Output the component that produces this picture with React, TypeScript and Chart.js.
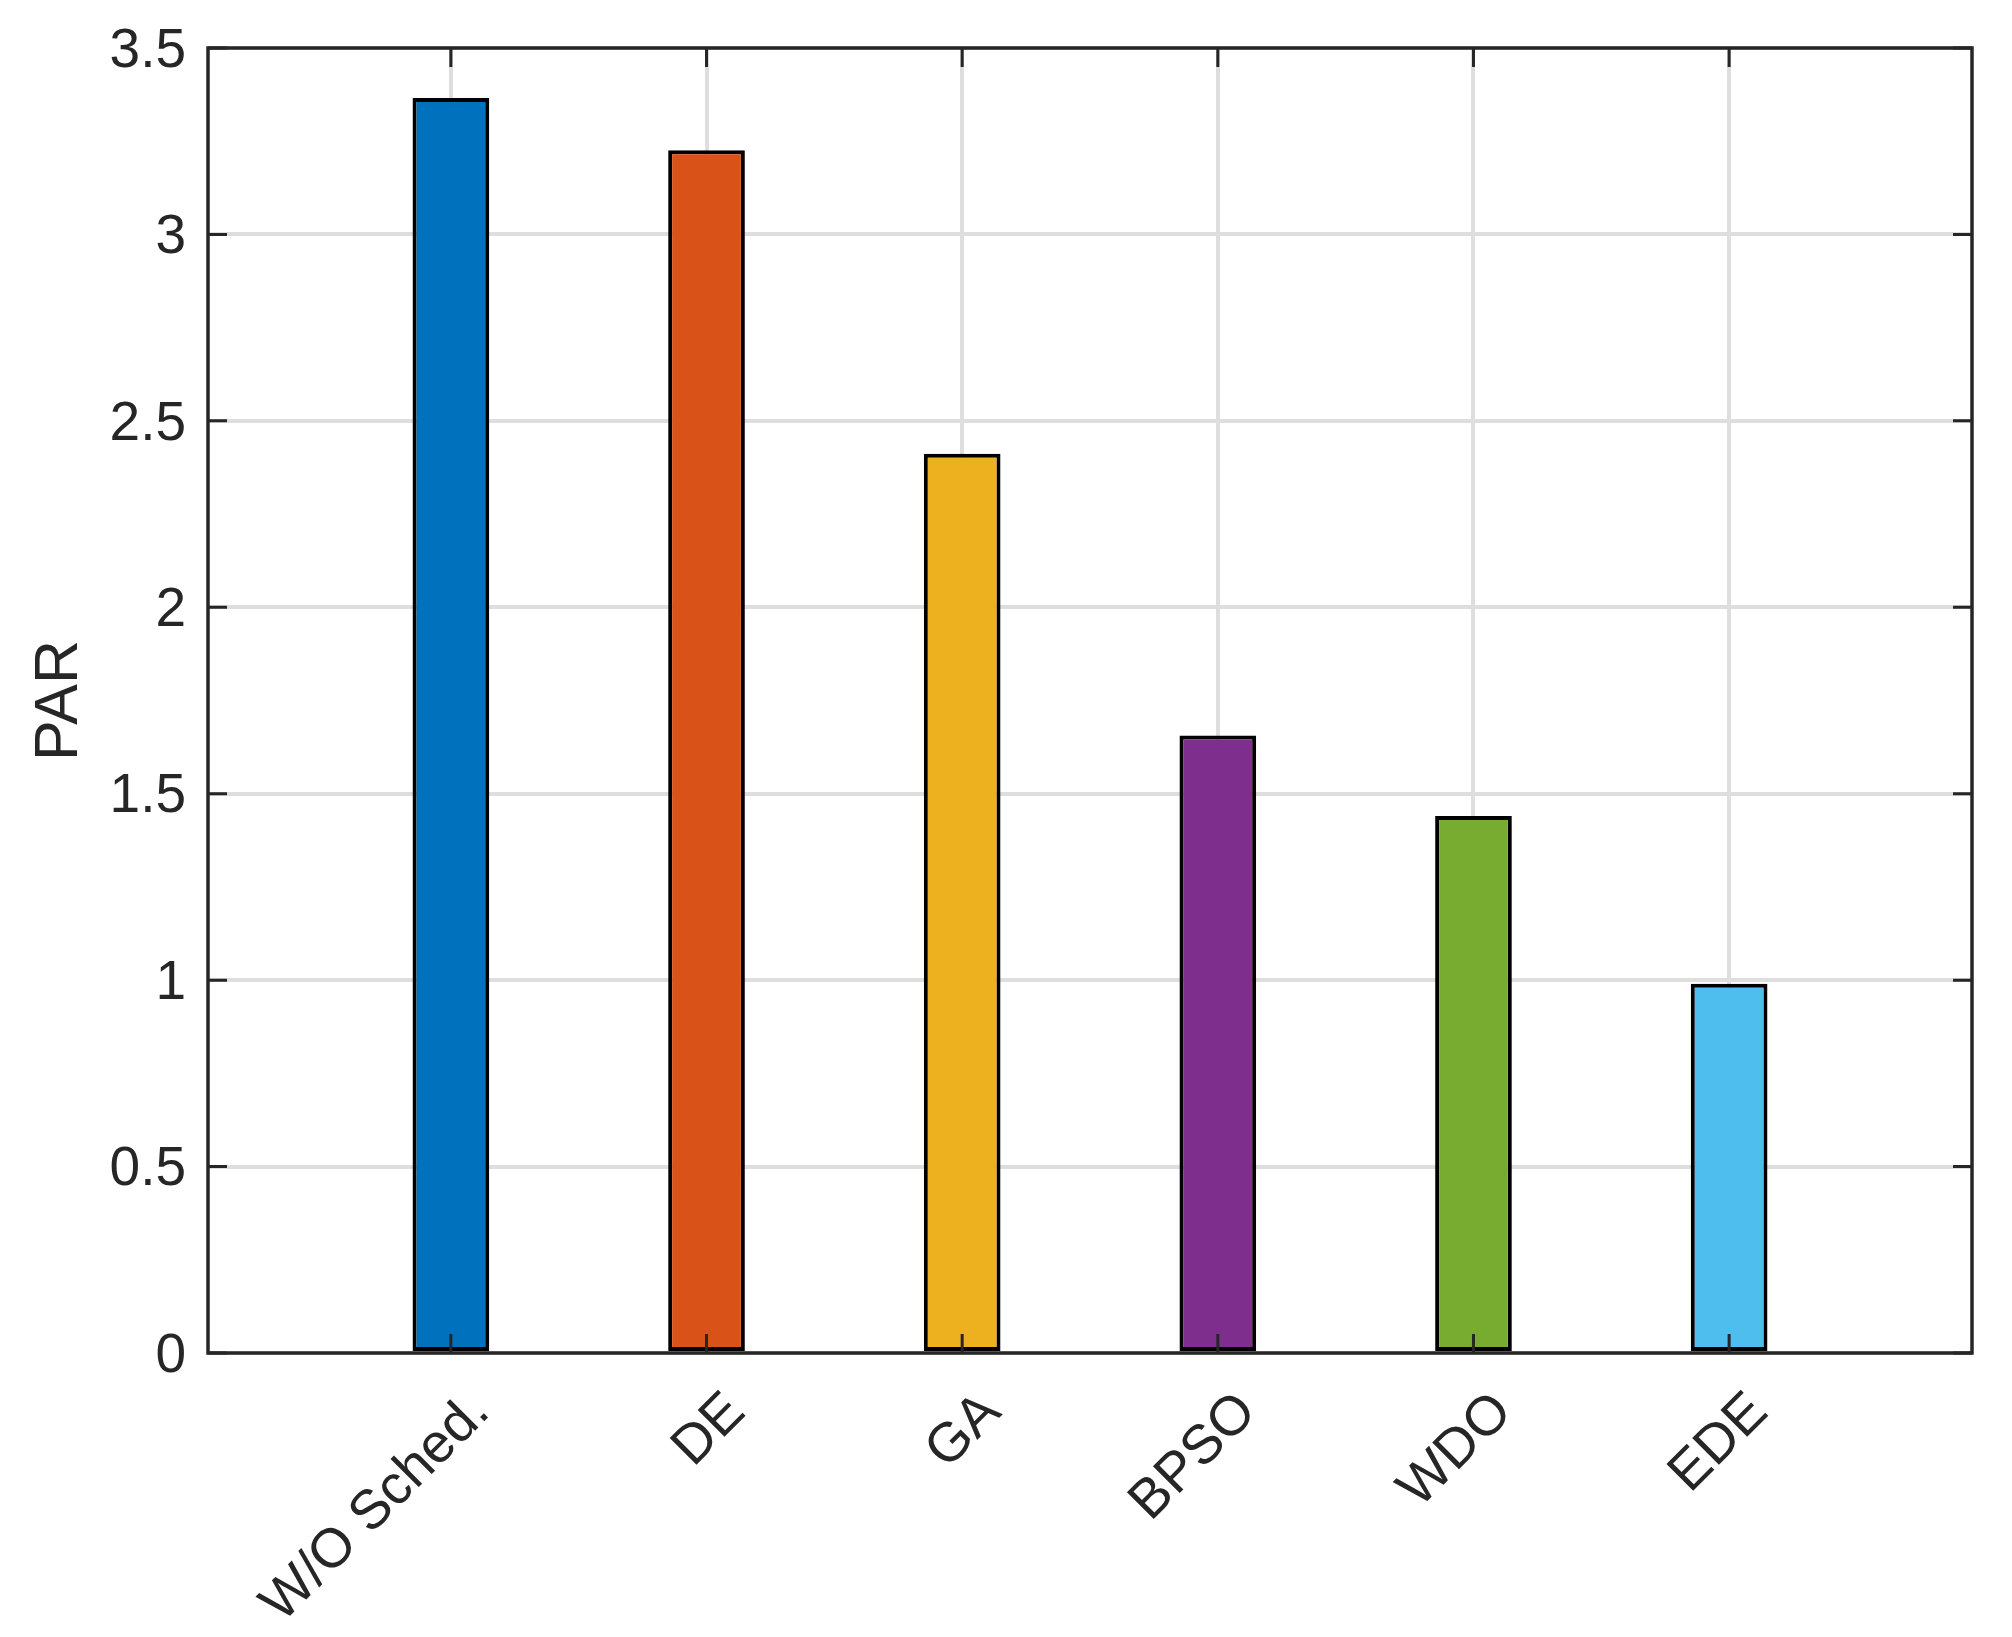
import React, { useEffect, useRef } from 'react';
import { Chart, registerables } from 'chart.js';

Chart.register(...registerables);

const categories = ['W/O Sched.', 'DE', 'GA', 'BPSO', 'WDO', 'EDE'];
const parValues = [3.366, 3.226, 2.412, 1.656, 1.44, 0.99];
const barColors = ['#0072BD', '#D95319', '#EDB120', '#7E2F8E', '#77AC30', '#4DBEEE'];
const yTicks = [0, 0.5, 1, 1.5, 2, 2.5, 3, 3.5];
const yLabel = 'PAR';

const TEXT = '#262626';
const GRID = '#dedede';
const FONT = '"Liberation Sans", Arial, Helvetica, sans-serif';

const framePlugin = {
  id: 'matlabFrame',
  afterDatasetsDraw(chart: any) {
    const { ctx, chartArea: a, scales } = chart;
    const xs = scales.x;
    const ys = scales.y;
    const tl = 19;
    ctx.save();
    ctx.strokeStyle = TEXT;
    ctx.lineCap = 'butt';
    ctx.lineWidth = 3;
    ctx.beginPath();
    xs.ticks.forEach((t: any) => {
      const px = xs.getPixelForValue(t.value);
      ctx.moveTo(px, a.bottom);
      ctx.lineTo(px, a.bottom - tl);
      ctx.moveTo(px, a.top);
      ctx.lineTo(px, a.top + tl);
    });
    ys.ticks.forEach((t: any) => {
      const py = ys.getPixelForValue(t.value);
      ctx.moveTo(a.left, py);
      ctx.lineTo(a.left + tl, py);
      ctx.moveTo(a.right, py);
      ctx.lineTo(a.right - tl, py);
    });
    ctx.stroke();
    ctx.lineWidth = 3.5;
    ctx.strokeRect(a.left, a.top, a.right - a.left, a.bottom - a.top);
    ctx.restore();
  },
};

export default function App() {
  const canvasRef = useRef<HTMLCanvasElement | null>(null);

  useEffect(() => {
    const canvas = canvasRef.current;
    if (!canvas) return;
    Chart.defaults.font.family = FONT;
    const chart = new Chart(canvas, {
      type: 'bar',
      data: {
        datasets: [
          {
            label: yLabel,
            data: parValues.map((v, i) => ({ x: i + 1, y: v })),
            backgroundColor: barColors,
            borderColor: '#000000',
            borderWidth: 4,
            borderSkipped: false,
            barPercentage: 0.3,
            categoryPercentage: 1,
          },
        ],
      },
      options: {
        responsive: false,
        animation: false,
        layout: { padding: { left: 0, top: 48, right: 40, bottom: 0 } },
        plugins: {
          legend: { display: false },
          tooltip: { enabled: false },
        },
        scales: {
          x: {
            type: 'linear',
            offset: false,
            min: 0.05,
            max: 6.95,
            afterBuildTicks: (scale: any) => {
              scale.ticks = categories.map((_, i) => ({ value: i + 1 }));
            },
            afterFit: (scale: any) => {
              scale.height = 284;
              scale.paddingLeft = 0;
              scale.paddingRight = 0;
            },
            ticks: {
              autoSkip: false,
              maxRotation: 45,
              minRotation: 45,
              padding: 27,
              labelOffset: 30,
              color: TEXT,
              font: { size: 55, family: FONT },
              callback: (_v: any, index: number) => categories[index],
            },
            grid: { color: GRID, lineWidth: 4, drawTicks: false, offset: false },
            border: { display: false },
          },
          y: {
            type: 'linear',
            min: 0,
            max: 3.5,
            afterBuildTicks: (scale: any) => {
              scale.ticks = yTicks.map((v) => ({ value: v }));
            },
            afterFit: (scale: any) => {
              scale.width = 208;
              scale.paddingTop = 0;
              scale.paddingBottom = 0;
            },
            ticks: {
              padding: 22,
              labelOffset: 3.5,
              color: TEXT,
              font: { size: 55, family: FONT },
              callback: (v: any) => String(v),
            },
            grid: { color: GRID, lineWidth: 4, drawTicks: false },
            border: { display: false },
            title: {
              display: true,
              text: yLabel,
              color: TEXT,
              font: { size: 61, family: FONT },
              padding: { top: 24, bottom: 0 },
            },
          },
        },
      },
      plugins: [framePlugin],
    });
    return () => chart.destroy();
  }, []);

  return (
    <div style={{ position: 'absolute', left: 0, top: 0, width: 2012, height: 1637, background: '#ffffff' }}>
      <canvas ref={canvasRef} width={2012} height={1637} style={{ display: 'block', width: 2012, height: 1637 }} />
    </div>
  );
}
